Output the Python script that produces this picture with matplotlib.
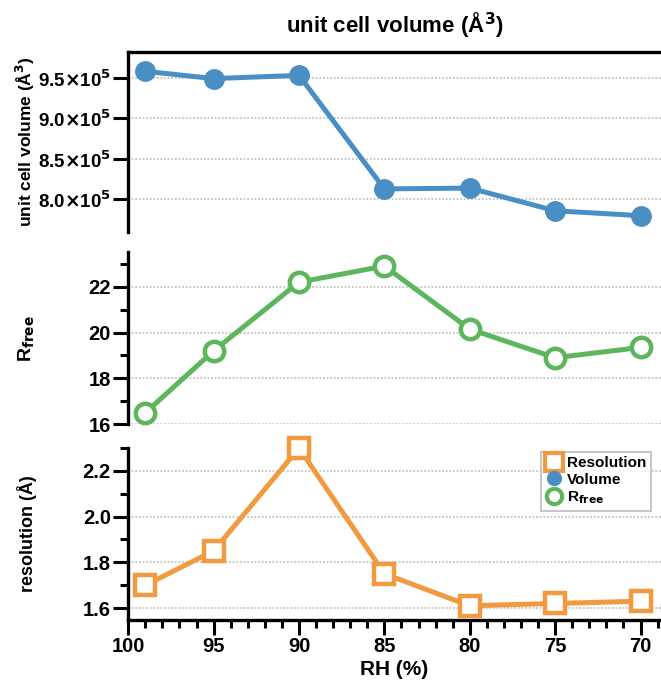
import matplotlib
matplotlib.use("Agg")
import matplotlib.pyplot as plt
from matplotlib.lines import Line2D
from matplotlib.ticker import FuncFormatter, MultipleLocator

FONT = "Liberation Sans Narrow"
plt.rcParams["font.family"] = [FONT, "Liberation Sans", "DejaVu Sans"]
plt.rcParams["font.weight"] = "bold"
plt.rcParams["mathtext.fontset"] = "custom"
plt.rcParams["mathtext.rm"] = FONT + ":bold"
plt.rcParams["mathtext.bf"] = FONT + ":bold"
plt.rcParams["mathtext.it"] = FONT + ":bold"
plt.rcParams["mathtext.default"] = "bf"

# data
rh = [99, 95, 90, 85, 80, 75, 70]
volume = [9.58e5, 9.49e5, 9.53e5, 8.13e5, 8.14e5, 7.86e5, 7.80e5]
rfree = [16.5, 19.2, 22.2, 22.9, 20.15, 18.9, 19.35]
resolution = [1.70, 1.85, 2.30, 1.75, 1.61, 1.62, 1.63]

BLUE = "#4a8fc3"
GREEN = "#5db55c"
ORANGE = "#f29a3f"

fig = plt.figure(figsize=(6.61, 6.82), dpi=100)
L, W = 0.194, 0.806
ax1 = fig.add_axes([L, 0.660, W, 0.264])
ax2 = fig.add_axes([L, 0.378, W, 0.252])
ax3 = fig.add_axes([L, 0.091, W, 0.252])

for ax in (ax1, ax2, ax3):
    ax.set_xlim(100, 68.8)
    for s in ax.spines.values():
        s.set_linewidth(2.4)
    ax.spines["right"].set_visible(False)
    ax.tick_params(axis="both", which="major", direction="out", length=10.5, width=2.2,
                   labelsize=14.5, pad=2)
    ax.tick_params(axis="both", which="minor", direction="out", length=6, width=2.2)
    ax.grid(axis="y", which="major", color="#c4c4c4", linestyle=(0, (1, 1)), linewidth=1.3)
    ax.set_axisbelow(True)

# top: volume
ax1.plot(rh, volume, color=BLUE, lw=3.6, marker="o", ms=14, mfc=BLUE, mec=BLUE, clip_on=False, zorder=3)
ax1.set_ylim(7.6e5, 9.82e5)
ax1.yaxis.set_major_locator(MultipleLocator(0.5e5))
ax1.yaxis.set_major_formatter(FuncFormatter(lambda v, p: f"{v/1e5:.1f}" + r"$\times$10$^{5}$"))
ax1.tick_params(axis="y", labelsize=13.5)
ax1.spines["bottom"].set_visible(False)
ax1.tick_params(axis="x", which="both", bottom=False, labelbottom=False)
ax1.set_ylabel(r"unit cell volume (Å$^{3}$)", fontsize=12.5, fontweight="bold")
ax1.set_title(r"unit cell volume (Å$^{3}$)", fontsize=16, fontweight="bold", pad=14)

# middle: rfree
ax2.plot(rh, rfree, color=GREEN, lw=3.6, marker="o", ms=14, mfc="white", mec=GREEN, mew=3.2, clip_on=False, zorder=3)
ax2.set_ylim(16, 23.5)
ax2.yaxis.set_major_locator(MultipleLocator(2))
ax2.yaxis.set_minor_locator(MultipleLocator(1))
ax2.spines["top"].set_visible(False)
ax2.spines["bottom"].set_visible(False)
ax2.tick_params(axis="x", which="both", bottom=False, labelbottom=False)
ax2.set_ylabel(r"R$_{free}$", fontsize=14, fontweight="bold")

# bottom: resolution
ax3.plot(rh, resolution, color=ORANGE, lw=3.6, marker="s", ms=14.5, mfc="white", mec=ORANGE, mew=3.2, clip_on=False, zorder=3)
ax3.set_ylim(1.548, 2.30)
ax3.yaxis.set_major_locator(MultipleLocator(0.2))
ax3.yaxis.set_minor_locator(MultipleLocator(0.1))
ax3.xaxis.set_major_locator(MultipleLocator(5))
ax3.xaxis.set_minor_locator(MultipleLocator(1))
ax3.spines["top"].set_visible(False)
ax3.set_ylabel("resolution (Å)", fontsize=13, fontweight="bold")
ax3.set_xlabel("RH (%)", fontsize=15, fontweight="bold", labelpad=3)

for ax in (ax1, ax2, ax3):
    ax.yaxis.set_label_coords(-0.172, 0.5)

handles = [
    Line2D([], [], ls="none", marker="s", ms=13, mfc="white", mec=ORANGE, mew=3),
    Line2D([], [], ls="none", marker="o", ms=10, mfc=BLUE, mec=BLUE),
    Line2D([], [], ls="none", marker="o", ms=11, mfc="white", mec=GREEN, mew=3),
]
leg = ax3.legend(handles, ["Resolution", "Volume", r"R$_{free}$"], loc="upper left",
                 bbox_to_anchor=(0.775, 0.98), fontsize=11, frameon=True, fancybox=False,
                 handletextpad=0.3, labelspacing=0.17, borderpad=0.3, handlelength=1.1,
                 borderaxespad=0)
leg.get_frame().set_edgecolor("#bbbbbb")
leg.get_frame().set_linewidth(1.5)

fig.savefig("out.png", dpi=100)
